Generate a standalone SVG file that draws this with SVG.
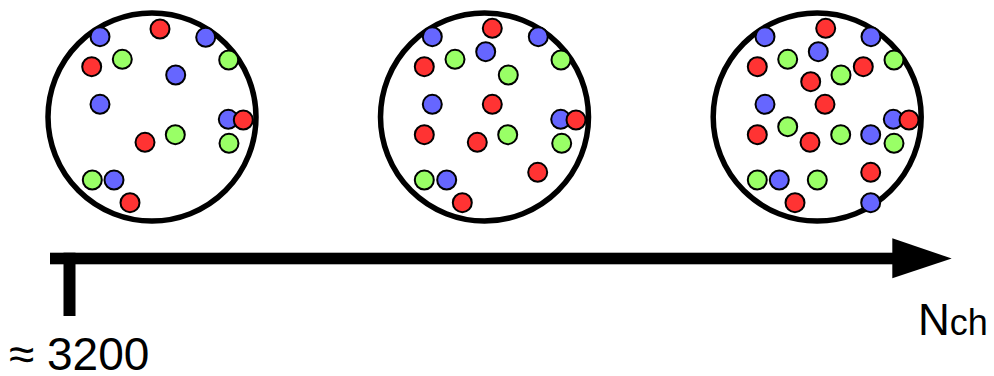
<svg xmlns="http://www.w3.org/2000/svg" width="994" height="376" viewBox="0 0 994 376">
<style>
.ring{fill:#fff;stroke:#000;stroke-width:5.5}
.d{stroke:#000;stroke-width:2}
.r{fill:#ff3333}
.g{fill:#99ff66}
.b{fill:#6666ff}
.t{font-family:"Liberation Sans",Arial,sans-serif;fill:#000}
</style>
<rect width="994" height="376" fill="#fff"/>
<g id="connectors">
<rect x="50" y="252.7" width="843" height="11.6" fill="#000"/>
<polygon points="892.3,238.3 951.7,258.5 892.3,278.3" fill="#000"/>
<rect x="63.5" y="252.7" width="12" height="63.3" fill="#000"/>
</g>
<g id="circle1">
<circle class="ring" cx="152" cy="117" r="104"/>
<circle class="d b" cx="100" cy="36.7" r="9.5"/>
<circle class="d r" cx="160" cy="29" r="9.5"/>
<circle class="d b" cx="205.7" cy="37.3" r="9.5"/>
<circle class="d g" cx="122.3" cy="59.3" r="9.5"/>
<circle class="d r" cx="91.7" cy="66.7" r="9.5"/>
<circle class="d g" cx="228.7" cy="60" r="9.5"/>
<circle class="d b" cx="175.7" cy="75" r="9.5"/>
<circle class="d b" cx="100" cy="104.3" r="9.5"/>
<circle class="d b" cx="228.3" cy="119.3" r="9.5"/>
<circle class="d r" cx="243.3" cy="120" r="9.5"/>
<circle class="d g" cx="175.3" cy="134.7" r="9.5"/>
<circle class="d r" cx="145" cy="142.3" r="9.5"/>
<circle class="d g" cx="229" cy="143.3" r="9.5"/>
<circle class="d g" cx="92.3" cy="180" r="9.5"/>
<circle class="d b" cx="114" cy="180" r="9.5"/>
<circle class="d r" cx="130" cy="202.7" r="9.5"/>
</g>
<g id="circle2">
<circle class="ring" cx="484.5" cy="117" r="104"/>
<circle class="d b" cx="432.3" cy="36.7" r="9.5"/>
<circle class="d r" cx="492.3" cy="28.3" r="9.5"/>
<circle class="d b" cx="538.3" cy="36.7" r="9.5"/>
<circle class="d b" cx="485.7" cy="51.7" r="9.5"/>
<circle class="d g" cx="455" cy="59.3" r="9.5"/>
<circle class="d r" cx="424.3" cy="66.7" r="9.5"/>
<circle class="d g" cx="561" cy="60" r="9.5"/>
<circle class="d g" cx="508.3" cy="75" r="9.5"/>
<circle class="d b" cx="432.3" cy="104.3" r="9.5"/>
<circle class="d r" cx="492.3" cy="104.3" r="9.5"/>
<circle class="d b" cx="560.7" cy="119.3" r="9.5"/>
<circle class="d r" cx="576" cy="120" r="9.5"/>
<circle class="d r" cx="424.3" cy="134.7" r="9.5"/>
<circle class="d g" cx="507.7" cy="134.7" r="9.5"/>
<circle class="d r" cx="477.3" cy="142.3" r="9.5"/>
<circle class="d g" cx="561.7" cy="143.3" r="9.5"/>
<circle class="d r" cx="537.7" cy="172.3" r="9.5"/>
<circle class="d g" cx="424.3" cy="180" r="9.5"/>
<circle class="d b" cx="446.7" cy="180" r="9.5"/>
<circle class="d r" cx="462.3" cy="202.7" r="9.5"/>
</g>
<g id="circle3">
<circle class="ring" cx="817.2" cy="117" r="104"/>
<circle class="d b" cx="765" cy="36.7" r="9.5"/>
<circle class="d r" cx="825.7" cy="28.3" r="9.5"/>
<circle class="d b" cx="871" cy="36.7" r="9.5"/>
<circle class="d b" cx="818.3" cy="51.7" r="9.5"/>
<circle class="d g" cx="787.7" cy="59.3" r="9.5"/>
<circle class="d r" cx="757.3" cy="66.7" r="9.5"/>
<circle class="d g" cx="894" cy="60" r="9.5"/>
<circle class="d r" cx="863.3" cy="66.7" r="9.5"/>
<circle class="d g" cx="841" cy="75" r="9.5"/>
<circle class="d r" cx="810.7" cy="81.7" r="9.5"/>
<circle class="d b" cx="765" cy="104.3" r="9.5"/>
<circle class="d r" cx="825" cy="104.3" r="9.5"/>
<circle class="d g" cx="787.7" cy="126.7" r="9.5"/>
<circle class="d r" cx="757.3" cy="134.7" r="9.5"/>
<circle class="d g" cx="840.7" cy="134.7" r="9.5"/>
<circle class="d b" cx="870.7" cy="134.7" r="9.5"/>
<circle class="d r" cx="810" cy="142.3" r="9.5"/>
<circle class="d b" cx="893.3" cy="119.3" r="9.5"/>
<circle class="d r" cx="909" cy="120" r="9.5"/>
<circle class="d g" cx="894" cy="143.3" r="9.5"/>
<circle class="d r" cx="870.7" cy="172.3" r="9.5"/>
<circle class="d g" cx="757.3" cy="180" r="9.5"/>
<circle class="d b" cx="779.3" cy="180" r="9.5"/>
<circle class="d g" cx="817.3" cy="180" r="9.5"/>
<circle class="d r" cx="795" cy="202.7" r="9.5"/>
<circle class="d b" cx="870.7" cy="202.7" r="9.5"/>
</g>
<g id="labels">
<text class="t" x="9" y="370" font-size="46">≈ 3200</text>
<text class="t" x="918" y="335" font-size="44">N<tspan font-size="36">ch</tspan></text>
</g>
</svg>
